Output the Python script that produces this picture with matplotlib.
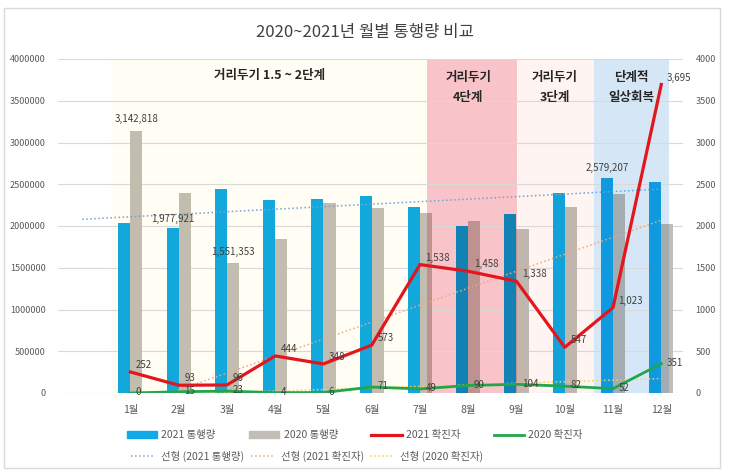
import numpy as np
import matplotlib.pyplot as plt
from matplotlib.patches import Rectangle, Patch
from matplotlib.lines import Line2D
from matplotlib.colors import to_rgb

plt.rcParams['font.family'] = ['Noto Sans CJK KR', 'DejaVu Sans']

# 데이터
months = ['1월', '2월', '3월', '4월', '5월', '6월', '7월', '8월', '9월', '10월', '11월', '12월']
traffic_2021 = [2030000, 1977921, 2440000, 2315000, 2325000, 2357000,
                2222000, 2000000, 2147000, 2401000, 2579207, 2525000]
traffic_2020 = [3142818, 2390000, 1551353, 1848000, 2274000, 2210000,
                2159000, 2055000, 1968000, 2226000, 2381000, 2019000]
cases_2021 = [252, 93, 96, 444, 348, 573, 1538, 1458, 1338, 547, 1023, 3695]
cases_2020 = [0, 15, 23, 4, 6, 71, 49, 90, 104, 82, 52, 351]
labeled_2021 = [1, 10]   # 값 표시할 달 (2021 통행량)
labeled_2020 = [0, 2]    # 값 표시할 달 (2020 통행량)
phase_labels = ['거리두기 1.5 ~ 2단계', '거리두기\n4단계', '거리두기\n3단계', '단계적\n일상회복']

title = '2020~2021년 월별 통행량 비교'

c_blue = '#12A9E6'
c_gray = '#C2BEB7'
c_red = '#E3161E'
c_green = '#22A64B'
txt = '#404040'


def multiply(c1, c2):
    return tuple(a * b for a, b in zip(to_rgb(c1), to_rgb(c2)))


x = np.arange(len(months))
w = 0.25

fig = plt.figure(figsize=(7.3, 4.75), dpi=100)
ax = fig.add_axes([58 / 730, 1 - 393 / 475, 625 / 730, 334 / 475])
ax2 = ax.twinx()

# 거리두기 단계 배경
spans = [(-0.41, 6.14, '#FFFDF4'), (6.14, 8.02, '#F9C4C9'),
         (8.02, 9.61, '#FEF4F2'), (9.61, 11.16, '#D5E7F7')]
for x0, x1, c in spans:
    ax.axvspan(x0, x1, color=c, lw=0, zorder=0.2)

ax.bar(x - w / 2, traffic_2021, w, color=c_blue, zorder=2)
ax.bar(x + w / 2, traffic_2020, w, color=c_gray, zorder=2)

# 배경 색이 막대에 겹쳐 보이도록 (곱하기 효과)
for x0, x1, c in spans:
    clip = Rectangle((x0, 0), x1 - x0, 4e6, transform=ax.transData)
    for vals, off, base in [(traffic_2021, -w / 2, c_blue), (traffic_2020, w / 2, c_gray)]:
        bars = ax.bar(x + off, vals, w, color=multiply(base, c), zorder=2.1)
        for b in bars:
            b.set_clip_path(clip)

for i in labeled_2021:
    ax.annotate(f'{traffic_2021[i]:,}', (i - w / 2, traffic_2021[i]), xytext=(0, 3),
                textcoords='offset points', ha='center', va='bottom', fontsize=7, color=txt, zorder=5)
for i in labeled_2020:
    ax.annotate(f'{traffic_2020[i]:,}', (i + w / 2, traffic_2020[i]), xytext=(0, 5),
                textcoords='offset points', ha='center', va='bottom', fontsize=7, color=txt, zorder=5)

# 추세선
xt = np.array([-1, 11])
p = np.polyfit(x, traffic_2021, 1)
ax.plot(xt, np.polyval(p, xt), ':', color='#6FA3D6', lw=1.1, zorder=4)

ax2.plot(x, cases_2021, color=c_red, lw=2.3, zorder=3)
ax2.plot(x, cases_2020, color=c_green, lw=2.0, zorder=3)
p = np.polyfit(x, cases_2021, 1)
ax2.plot(xt, np.polyval(p, xt), ':', color='#F1A77A', lw=1.1, zorder=2)
p = np.polyfit(x, cases_2020, 1)
ax2.plot(xt, np.polyval(p, xt), ':', color='#F6CF5A', lw=1.1, zorder=2)

for vals, dy in ((cases_2021, 5), (cases_2020, 0.5)):
    for i, v in enumerate(vals):
        ax2.annotate(f'{v:,}', (i, v), xytext=(4, dy), textcoords='offset points',
                     ha='left', va='center', fontsize=7, color=txt, zorder=5)

# 단계 문구
ax.text(2.89, 0.952, phase_labels[0], transform=ax.get_xaxis_transform(), ha='center', va='center',
        fontsize=9, fontweight='bold', color='#262626', zorder=6)
for xc, lab in zip([7.0, 8.8, 10.38], phase_labels[1:]):
    ax.text(xc, 0.915, lab, transform=ax.get_xaxis_transform(), ha='center', va='center',
            fontsize=9, fontweight='bold', color='#262626', linespacing=1.75, zorder=6)

# 축
ax.set_xlim(-1.5, 11.45)
ax.set_ylim(0, 4000000)
ax.set_yticks(np.arange(0, 4000001, 500000))
ax.set_yticklabels([str(v) for v in range(0, 4000001, 500000)])
ax.set_xticks(x, months)
ax.yaxis.grid(True, color='#D9D9D9', lw=0.8)
ax.set_axisbelow(True)
ax.tick_params(axis='y', length=0, labelsize=6.5, labelcolor='#595959', pad=9)
ax.tick_params(axis='x', length=0, labelsize=7.5, labelcolor='#595959', pad=9)
ax2.set_ylim(0, 4000)
ax2.set_yticks(np.arange(0, 4001, 500))
ax2.tick_params(axis='y', length=0, labelsize=6.5, labelcolor='#595959', pad=9)
for a in (ax, ax2):
    for s in a.spines.values():
        s.set_visible(False)

fig.text(0.5, 1 - 32 / 475, title, ha='center', va='center', fontsize=12, color=txt)

# 범례
row1 = [Patch(color=c_blue, label='2021 통행량'), Patch(color=c_gray, label='2020 통행량'),
        Line2D([], [], color=c_red, lw=2.3, label='2021 확진자'),
        Line2D([], [], color=c_green, lw=2.0, label='2020 확진자')]
row2 = [Line2D([], [], color='#6FA3D6', ls=':', lw=1.1, label='선형 (2021 통행량)'),
        Line2D([], [], color='#F1A77A', ls=':', lw=1.1, label='선형 (2021 확진자)'),
        Line2D([], [], color='#F6CF5A', ls=':', lw=1.1, label='선형 (2020 확진자)')]
fig.legend(handles=row1, loc='center left', bbox_to_anchor=(127 / 730, 1 - 435 / 475), ncol=4,
           frameon=False, fontsize=7.5, handlelength=2.9, handleheight=0.6, handletextpad=0.4,
           columnspacing=3.2, borderpad=0, borderaxespad=0, labelcolor='#595959')
fig.legend(handles=row2, loc='center left', bbox_to_anchor=(131 / 730, 1 - 456 / 475), ncol=3,
           frameon=False, fontsize=7.5, handlelength=2.3, handletextpad=0.6,
           columnspacing=0.6, borderpad=0, borderaxespad=0, labelcolor='#595959')

fig.add_artist(Rectangle((4 / 730, 1 - 468 / 475), 716 / 730, 460 / 475, transform=fig.transFigure,
                         fill=False, ec='#D9D9D9', lw=1))

plt.savefig('out.png', dpi=100)
